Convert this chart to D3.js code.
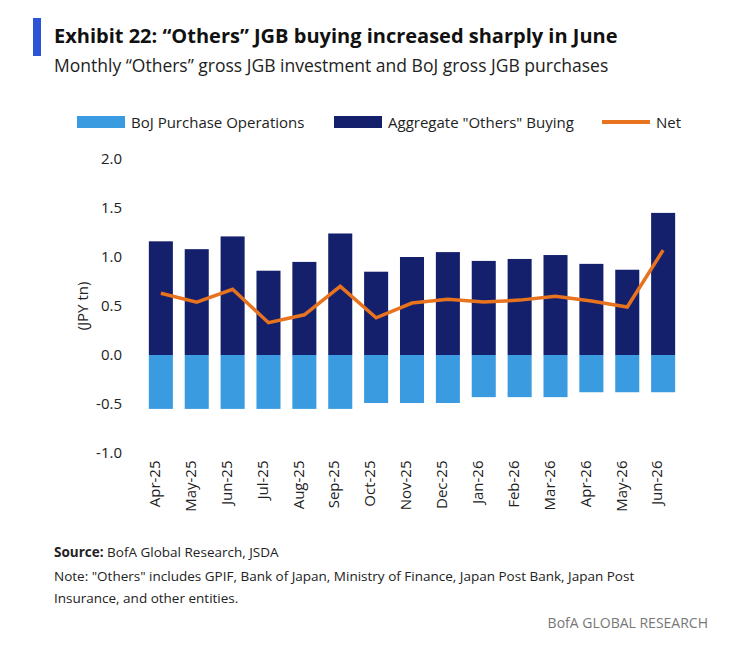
<!DOCTYPE html>
<html><head><meta charset="utf-8">
<script src="https://cdn.jsdelivr.net/npm/d3@7"></script>
<style>body{margin:0;background:#fff;font-family:"Open Sans",sans-serif;}</style>
</head><body><svg id="c" width="733" height="653"></svg>
<script>
const months = ['Apr-25','May-25','Jun-25','Jul-25','Aug-25','Sep-25','Oct-25','Nov-25','Dec-25','Jan-26','Feb-26','Mar-26','Apr-26','May-26','Jun-26'];
const others = [1.16,1.08,1.21,0.86,0.95,1.24,0.85,1.00,1.05,0.96,0.98,1.02,0.93,0.87,1.45];
const boj = [-0.55,-0.55,-0.55,-0.55,-0.55,-0.55,-0.49,-0.49,-0.49,-0.43,-0.43,-0.43,-0.38,-0.38,-0.38];
const net = [0.63,0.54,0.67,0.33,0.41,0.70,0.38,0.53,0.57,0.54,0.56,0.60,0.55,0.49,1.07];
const yTicks = [-1.0,-0.5,0.0,0.5,1.0,1.5,2.0];

const svg = d3.select('#c');
const navy = '#14206b', light = '#3a9be0', orange = '#e8731f';

svg.append('rect').attr('x',33).attr('y',18).attr('width',8).attr('height',38).attr('fill','#2b55d6');
svg.append('text').attr('x',54).attr('y',43).attr('font-size',20).attr('font-weight',700).attr('fill','#111')
  .text('Exhibit 22: \u201cOthers\u201d JGB buying increased sharply in June');
svg.append('text').attr('x',54).attr('y',72).attr('font-size',17.5).attr('fill','#222')
  .text('Monthly \u201cOthers\u201d gross JGB investment and BoJ gross JGB purchases');

// legend
const lg = svg.append('g').attr('font-size',15).attr('fill','#222');
lg.append('rect').attr('x',77).attr('y',116).attr('width',48).attr('height',12).attr('fill',light);
lg.append('text').attr('x',131).attr('y',128).text('BoJ Purchase Operations');
lg.append('rect').attr('x',334).attr('y',116).attr('width',48).attr('height',12).attr('fill',navy);
lg.append('text').attr('x',388).attr('y',128).text('Aggregate "Others" Buying');
lg.append('line').attr('x1',602).attr('x2',650).attr('y1',122).attr('y2',122).attr('stroke',orange).attr('stroke-width',4);
lg.append('text').attr('x',656).attr('y',128).text('Net');

const x = d3.scaleBand().domain(months).range([137,687]).padding(0.33);
const y = d3.scaleLinear().domain([-1,2]).range([453,159]);

const g = svg.append('g');
g.append('g').attr('transform','translate(125,0)')
  .call(d3.axisLeft(y).tickValues(yTicks).tickFormat(d => d3.format('.1f')(d).replace('\u2212','-')).tickSize(0))
  .call(a=>a.select('.domain').remove())
  .selectAll('text').attr('font-size',15).attr('fill','#222').attr('font-family','Open Sans');

g.selectAll('.o').data(months).enter().append('rect')
  .attr('x',d=>x(d)).attr('width',x.bandwidth())
  .attr('y',(d,i)=>y(others[i])).attr('height',(d,i)=>y(0)-y(others[i])).attr('fill',navy);
g.selectAll('.b').data(months).enter().append('rect')
  .attr('x',d=>x(d)).attr('width',x.bandwidth())
  .attr('y',y(0)).attr('height',(d,i)=>y(boj[i])-y(0)).attr('fill',light);

g.append('path').datum(net)
  .attr('d',d3.line().x((d,i)=>x(months[i])+x.bandwidth()/2).y(d=>y(d)))
  .attr('fill','none').attr('stroke',orange).attr('stroke-width',3.5);

g.append('g').attr('transform','translate(0,453)')
  .call(d3.axisBottom(x).tickSize(0))
  .call(a=>a.select('.domain').remove())
  .selectAll('text').attr('font-size',15).attr('fill','#222').attr('font-family','Open Sans')
  .attr('transform','rotate(-90)').attr('text-anchor','end').attr('dx','-0.5em').attr('dy','-0.25em');

svg.append('text').attr('transform','translate(88,306) rotate(-90)').attr('text-anchor','middle')
  .attr('font-size',15).attr('fill','#222').text('(JPY tn)');

const f = svg.append('g').attr('font-size',13.5).attr('fill','#222');
f.append('text').attr('x',54).attr('y',557).html('<tspan font-weight="700">Source:</tspan> BofA Global Research, JSDA');
f.append('text').attr('x',54).attr('y',581).text('Note: "Others" includes GPIF, Bank of Japan, Ministry of Finance, Japan Post Bank, Japan Post');
f.append('text').attr('x',54).attr('y',603).text('Insurance, and other entities.');
svg.append('text').attr('x',708).attr('y',628).attr('text-anchor','end').attr('font-size',14).attr('fill','#777').text('BofA GLOBAL RESEARCH');
</script></body></html>
